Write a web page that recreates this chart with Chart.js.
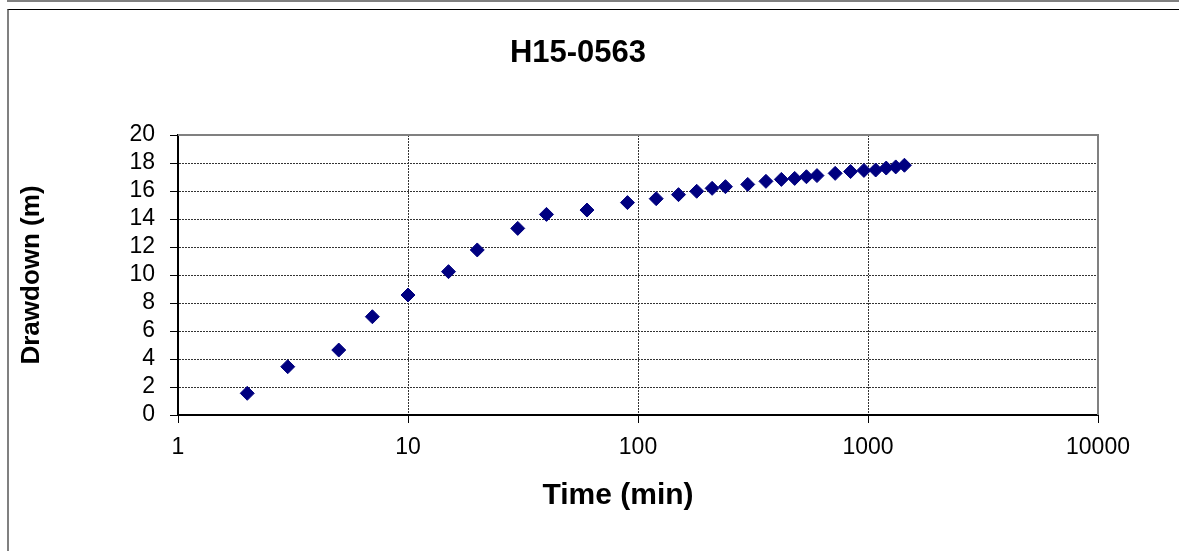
<!DOCTYPE html>
<html>
<head>
<meta charset="utf-8">
<script src="https://cdn.jsdelivr.net/npm/chart.js@4"></script>
<style>
  html, body { margin: 0; padding: 0; background: #fff; overflow: hidden; }
  #prev { position: absolute; left: 7px; top: -20px; width: 1300px; height: 20px; border: 2px solid #808080; border-top: none; }
  #frame { position: absolute; left: 7px; top: 9px; width: 1300px; height: 700px; border-top: 1px solid #000; border-left: 2px solid #808080; }
  #myChart { position: absolute; left: 0; top: 0; }
</style>
</head>
<body>
<div id="prev"></div>
<div id="frame"></div>
<canvas id="myChart" width="1179" height="551"></canvas>
<script>
// pumping test H15-0563
const chartTitle = 'H15-0563';
const xTitle = 'Time (min)';
const yTitle = 'Drawdown (m)';
const timeMin = [2, 3, 5, 7, 10, 15, 20, 30, 40, 60, 90, 120, 150, 180, 210, 240, 300, 360, 420, 480, 540, 600, 720, 840, 960, 1080, 1200, 1320, 1440];
const drawdown = [1.55, 3.45, 4.64, 7.02, 8.57, 10.24, 11.79, 13.33, 14.33, 14.64, 15.17, 15.45, 15.74, 15.98, 16.19, 16.31, 16.47, 16.69, 16.83, 16.9, 17.02, 17.1, 17.26, 17.39, 17.47, 17.5, 17.64, 17.72, 17.84];
const xTicks = [1, 10, 100, 1000, 10000];

const points = timeMin.map((t, i) => ({ x: t, y: drawdown[i] }));

// gray frame on top/right of the plot + titles placed like excel does
const plotFrame = {
  id: 'plotFrame',
  afterDraw(chart) {
    const a = chart.chartArea;
    const ctx = chart.ctx;
    ctx.save();
    ctx.strokeStyle = '#808080';
    ctx.lineWidth = 2;
    ctx.beginPath();
    ctx.moveTo(a.left, a.top);
    ctx.lineTo(a.right, a.top);
    ctx.lineTo(a.right, a.bottom);
    ctx.stroke();

    ctx.fillStyle = '#000';
    ctx.textAlign = 'center';
    ctx.textBaseline = 'middle';
    ctx.font = 'bold 31px "Liberation Sans", Arial';
    ctx.fillText(chartTitle, 578, 53);
    ctx.font = 'bold 30px "Liberation Sans", Arial';
    ctx.fillText(xTitle, 618, 496);
    ctx.restore();
  }
};

const ctx = document.getElementById('myChart').getContext('2d');
const myChart = new Chart(ctx, {
  type: 'scatter',
  data: {
    datasets: [{
      label: 'Drawdown',
      data: points,
      pointStyle: 'rectRot',
      pointRadius: 7,
      pointHoverRadius: 7,
      backgroundColor: '#000080',
      borderColor: '#000080',
      borderWidth: 1
    }]
  },
  options: {
    responsive: false,
    animation: false,
    events: [],
    layout: { padding: { left: 12, right: 81, top: 135, bottom: 34 } },
    plugins: {
      legend: { display: false },
      tooltip: { enabled: false },
      title: { display: false }
    },
    scales: {
      x: {
        type: 'logarithmic',
        min: 1,
        max: 10000,
        afterBuildTicks: (scale) => { scale.ticks = xTicks.map(v => ({ value: v })); },
        afterFit: (scale) => { scale.height = 102; },
        ticks: {
          autoSkip: false,
          maxRotation: 0,
          padding: 11,
          color: '#000',
          font: { family: 'Liberation Sans, Arial', size: 23 },
          callback: (v) => String(v)
        },
        grid: { color: '#333', borderDash: [2, 1], tickLength: 8, tickColor: '#000' },
        border: { color: '#000', width: 2, dash: [2, 1] }
      },
      y: {
        min: 0,
        max: 20,
        afterFit: (scale) => { scale.width = 166; },
        ticks: {
          stepSize: 2,
          autoSkip: false,
          padding: 15,
          color: '#000',
          font: { family: 'Liberation Sans, Arial', size: 23 }
        },
        grid: { color: '#333', borderDash: [2, 1], tickLength: 8, tickColor: '#000' },
        border: { color: '#000', width: 2, dash: [2, 1] },
        title: {
          display: true,
          text: yTitle,
          color: '#000',
          font: { family: 'Liberation Sans, Arial', size: 26, weight: 'bold' }
        }
      }
    }
  },
  plugins: [plotFrame]
});
</script>
</body>
</html>
